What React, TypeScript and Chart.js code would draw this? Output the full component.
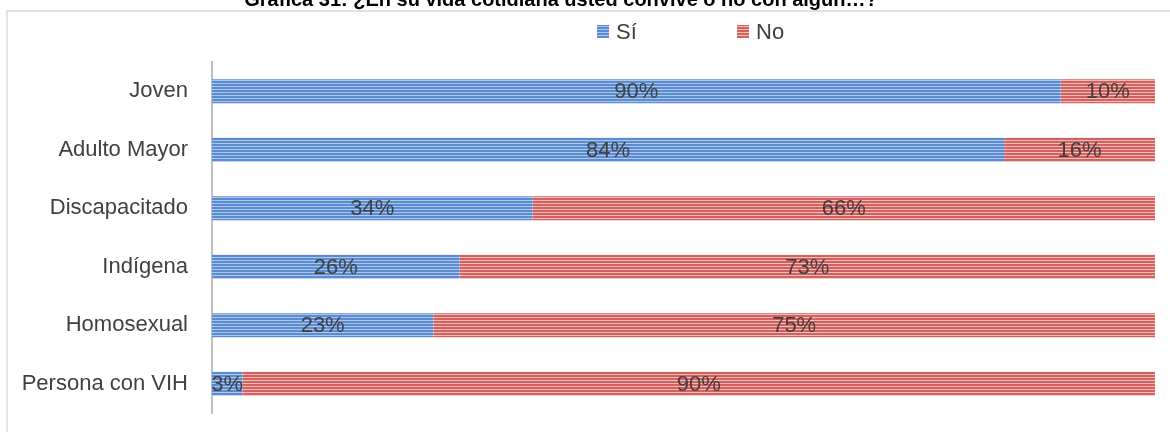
import React, { useEffect, useRef } from "react";
import { Chart, registerables } from "chart.js";

Chart.register(...registerables);

const categories = ["Joven", "Adulto Mayor", "Discapacitado", "Indígena", "Homosexual", "Persona con VIH"];
const siValues = [90, 84, 34, 26, 23, 3];
const noValues = [10, 16, 66, 73, 75, 90];
const seriesNames = ["Sí", "No"];
const titleText = "Gráfica 31: ¿En su vida cotidiana usted convive o no con algún…?";

const FONT = "'Liberation Sans', Arial, sans-serif";

function makePattern(dark: string, light: string): CanvasPattern | string {
  const c = document.createElement("canvas");
  c.width = 4;
  c.height = 3;
  const g = c.getContext("2d");
  if (!g) return dark;
  g.fillStyle = dark;
  g.fillRect(0, 0, 4, 2);
  g.fillStyle = light;
  g.fillRect(0, 2, 4, 1);
  const ctx = document.createElement("canvas").getContext("2d");
  const p = ctx ? ctx.createPattern(c, "repeat") : null;
  return p || dark;
}

export default function App() {
  const ref = useRef<HTMLCanvasElement | null>(null);

  useEffect(() => {
    if (!ref.current) return;
    const bluePat = makePattern("#5b8bd0", "#adc6ea");
    const redPat = makePattern("#d5605d", "#f0bdbb");

    const totals = siValues.map((v, i) => v + noValues[i]);
    const siPct = siValues.map((v, i) => (v / totals[i]) * 100);
    const noPct = noValues.map((v, i) => (v / totals[i]) * 100);
    const rawLabels = [siValues, noValues];

    const decor = {
      id: "decor",
      beforeDraw(chart: any) {
        const ctx = chart.ctx;
        ctx.save();
        ctx.fillStyle = "#ffffff";
        ctx.fillRect(0, 0, chart.width, chart.height);
        ctx.strokeStyle = "#d9d9d9";
        ctx.lineWidth = 1.5;
        ctx.beginPath();
        ctx.moveTo(7, chart.height);
        ctx.lineTo(7, 11);
        ctx.lineTo(chart.width, 11);
        ctx.stroke();
        // title (partly cut at the top, as in the source)
        ctx.fillStyle = "#000000";
        ctx.font = `bold 20px ${FONT}`;
        ctx.textAlign = "center";
        ctx.textBaseline = "alphabetic";
        ctx.fillText(titleText, 561, 6);
        ctx.restore();
      },
      afterDatasetsDraw(chart: any) {
        const ctx = chart.ctx;
        ctx.save();
        ctx.font = `22px ${FONT}`;
        ctx.fillStyle = "#404040";
        ctx.textAlign = "center";
        ctx.textBaseline = "middle";
        chart.data.datasets.forEach((ds: any, di: number) => {
          const meta = chart.getDatasetMeta(di);
          meta.data.forEach((el: any, i: number) => {
            const cx = (el.x + el.base) / 2;
            ctx.fillText(rawLabels[di][i] + "%", cx, el.y + 1);
          });
        });
        ctx.restore();
      },
      afterDraw(chart: any) {
        const ctx = chart.ctx;
        ctx.save();
        ctx.font = `22px ${FONT}`;
        ctx.textBaseline = "middle";
        ctx.textAlign = "left";
        const pats = [bluePat, redPat];
        const xs = [597, 737];
        seriesNames.forEach((name, i) => {
          ctx.fillStyle = pats[i];
          ctx.fillRect(xs[i], 25, 12, 13);
          ctx.fillStyle = "#404040";
          ctx.fillText(name, xs[i] + 19, 33);
        });
        ctx.restore();
      },
    };

    const chart = new Chart(ref.current, {
      type: "bar",
      data: {
        labels: categories,
        datasets: [
          { label: seriesNames[0], data: siPct, backgroundColor: bluePat as any, borderWidth: 0 },
          { label: seriesNames[1], data: noPct, backgroundColor: redPat as any, borderWidth: 0 },
        ],
      },
      options: {
        indexAxis: "y",
        responsive: false,
        animation: false,
        devicePixelRatio: 1,
        layout: { padding: { left: 12, right: 15, top: 62, bottom: 19 } },
        datasets: { bar: { categoryPercentage: 1, barPercentage: 0.41 } },
        scales: {
          x: { stacked: true, min: 0, max: 100, display: false },
          y: {
            stacked: true,
            grid: { display: false, drawTicks: false },
            border: { display: true, color: "#bfbfbf", width: 2 },
            ticks: { font: { family: FONT, size: 22 }, color: "#404040", padding: 24 },
            afterFit: (s: any) => {
              s.width = 200;
              s.paddingTop = 0;
              s.paddingBottom = 0;
            },
          },
        },
        plugins: {
          legend: { display: false },
          title: { display: false },
          tooltip: { enabled: false },
        },
      },
      plugins: [decor],
    });
    return () => chart.destroy();
  }, []);

  return (
    <div style={{ position: "fixed", top: 0, left: 0, width: 1170, height: 432, background: "#fff" }}>
      <canvas ref={ref} width={1170} height={432} style={{ display: "block" }} />
    </div>
  );
}
